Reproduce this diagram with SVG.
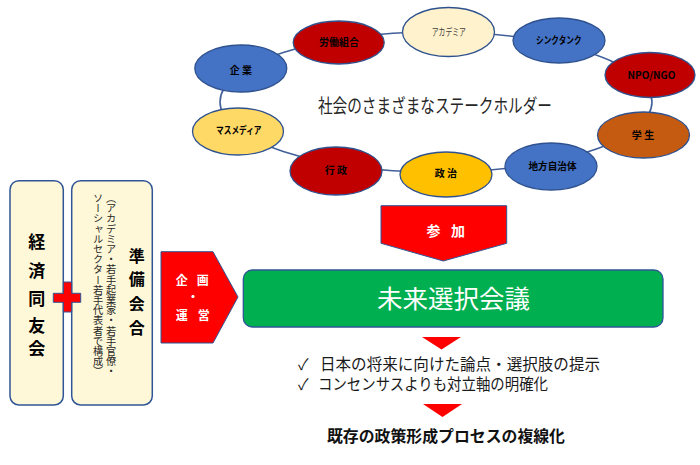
<svg xmlns="http://www.w3.org/2000/svg" width="700" height="465" viewBox="0 0 700 465">
<style>
text{font-family:"Noto Sans CJK JP","Noto Sans",sans-serif}
.node{stroke:#2F528F;stroke-width:1.3}
.blue{fill:#4472C4}.dred{fill:#C00000}.cream{fill:#FFF2CC}.ylw{fill:#FFD966}.org{fill:#C55A11}.gold{fill:#FFC000}
.lbl{font-size:10px;font-weight:bold;fill:#000;text-anchor:middle}
.box{fill:#FEF8D8;stroke:#2F5597;stroke-width:1.5}
.red{fill:#FF0000;stroke:#2F5597;stroke-width:1}
.wt{fill:#fff;font-weight:bold}
.vt{font-size:10.2px;fill:#262626;writing-mode:vertical-rl}
.tri{fill:#FF0000}
.bul{font-size:15.5px;fill:#1a1a1a}
</style>
<g id="connectors">
<ellipse cx="436" cy="102" rx="216" ry="70" fill="none" stroke="#41609A" stroke-width="1.6"/>
</g>
<g id="n-academia"><ellipse class="node cream" cx="448.5" cy="32" rx="46" ry="24.5"/><text class="lbl" x="448.8" y="35.5" style="font-weight:normal;fill:#404040" textLength="34" lengthAdjust="spacingAndGlyphs">アカデミア</text></g>
<g id="n-union"><ellipse class="node dred" cx="338.7" cy="42.5" rx="45.5" ry="21.5"/><text class="lbl" x="339" y="46">労働組合</text></g>
<g id="n-thinktank"><ellipse class="node blue" cx="559" cy="40.5" rx="46" ry="22.5"/><text class="lbl" x="558.8" y="44.2" textLength="45.5" lengthAdjust="spacingAndGlyphs">シンクタンク</text></g>
<g id="n-company"><ellipse class="node blue" cx="240.8" cy="68.5" rx="46" ry="23.5"/><text class="lbl" x="240.8" y="73.5">企 業</text></g>
<g id="n-npo"><ellipse class="node dred" cx="650" cy="75" rx="45" ry="22.5"/><text class="lbl" x="651.5" y="78.5">NPO/NGO</text></g>
<g id="n-media"><ellipse class="node ylw" cx="238" cy="131.5" rx="45.5" ry="23.5"/><text class="lbl" x="238.8" y="133.5" textLength="45.5" lengthAdjust="spacingAndGlyphs">マスメディア</text></g>
<g id="n-student"><ellipse class="node org" cx="643.5" cy="135" rx="46" ry="23"/><text class="lbl" x="643" y="138.5">学 生</text></g>
<g id="n-admin"><ellipse class="node dred" cx="336" cy="171" rx="46" ry="24"/><text class="lbl" x="335.8" y="174.2">行 政</text></g>
<g id="n-politics"><ellipse class="node gold" cx="446" cy="174.5" rx="46" ry="22.5"/><text class="lbl" x="445.8" y="176.5">政 治</text></g>
<g id="n-local"><ellipse class="node blue" cx="551" cy="166.5" rx="46" ry="23.5"/><text class="lbl" x="552.5" y="170.2" textLength="48" lengthAdjust="spacingAndGlyphs">地方自治体</text></g>
<text x="435" y="113" font-size="19" fill="#262626" text-anchor="middle" textLength="234" lengthAdjust="spacingAndGlyphs">社会のさまざまなステークホルダー</text>

<g id="n-doyukai"><rect class="box" x="10" y="180.7" width="53.3" height="224.3" rx="9"/>
<text x="36.7 36.7 36.7 36.7 36.7" y="248 276.5 305 331.5 355" font-size="17" font-weight="bold" fill="#000" text-anchor="middle">経済同友会</text></g>
<g id="n-junbi"><rect class="box" x="71.7" y="180.7" width="80.6" height="224.3" rx="9"/>
<text x="136.7 136.7 136.7 136.7" y="261.5 284.5 309.5 333.5" font-size="16" font-weight="bold" fill="#000" text-anchor="middle">準備会合</text>
<text class="vt" x="111" y="193">（アカデミア・若手起業家・若手官僚・</text>
<text class="vt" x="98" y="193">ソーシャルセクター若手代表者で構成）</text></g>
<g id="plus"><path class="red" d="M63.3 282 H71.7 V293.3 H80.7 V302.3 H71.7 V312 H63.3 V302.3 H53.3 V293.3 H63.3 Z"/></g>
<g id="n-kikaku"><path class="red" d="M161 251.7 H213 L238 297 L213 343 H161 Z"/>
<text class="wt" font-size="12" x="175.7" y="284.5" letter-spacing="9">企画</text>
<text class="wt" font-size="12" x="193" y="301.5" text-anchor="middle">・</text>
<text class="wt" font-size="12" x="175.7" y="319.5" letter-spacing="10">運営</text></g>
<g id="n-sanka"><path class="red" d="M381 205.7 H506.7 V243.3 L443.3 261 L381 243.3 Z"/>
<text class="wt" font-size="14" x="426.5" y="235.5" letter-spacing="10.5">参加</text></g>
<g id="n-mirai"><rect x="243.3" y="270" width="419.7" height="57" rx="9" fill="#00B050" stroke="#2F5597" stroke-width="1.3"/>
<text x="453.5" y="308" font-size="25" fill="#fff" text-anchor="middle" textLength="153" lengthAdjust="spacingAndGlyphs">未来選択会議</text></g>
<g id="tri1"><path class="tri" d="M422 337 H461 L441.5 349.5 Z"/></g>
<g id="n-bullets">
<text class="bul" x="298" y="370" font-size="13">✓</text>
<text class="bul" x="320" y="370" textLength="280" lengthAdjust="spacingAndGlyphs">日本の将来に向けた論点・選択肢の提示</text>
<text class="bul" x="298" y="390" font-size="13">✓</text>
<text class="bul" x="318" y="390" textLength="230" lengthAdjust="spacingAndGlyphs">コンセンサスよりも対立軸の明確化</text>
</g>
<g id="tri2"><path class="tri" d="M423 404 H462 L442.5 417 Z"/></g>
<g id="n-result"><text x="446" y="441.5" font-size="16" font-weight="bold" fill="#111" text-anchor="middle" textLength="238" lengthAdjust="spacingAndGlyphs">既存の政策形成プロセスの複線化</text></g>
</svg>
